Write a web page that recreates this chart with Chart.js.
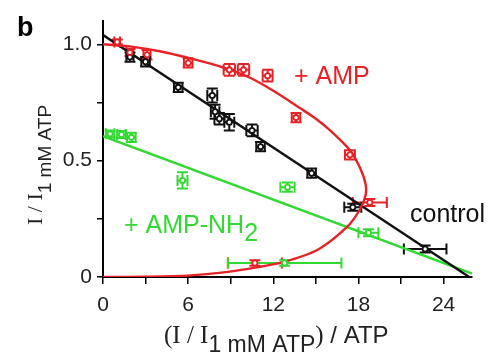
<!DOCTYPE html>
<html><head><meta charset="utf-8">
<script src="https://cdn.jsdelivr.net/npm/chart.js@4"></script>
<style>html,body{margin:0;padding:0;background:#fff}</style>
</head><body>
<canvas id="c" width="490" height="352" style="width:490px;height:352px;display:block"></canvas>
<script>
// ---- data ----
const xTicks = [0, 6, 12, 18, 24];
const yTicks = [0, 0.5, 1.0];

// + AMP (red)
const ampX    = [1.0, 1.9, 3.1, 6.0, 8.9, 9.9, 11.6, 13.6, 17.4, 18.8, 10.7];
const ampY    = [1.01, 0.965, 0.955, 0.92, 0.89, 0.89, 0.865, 0.685, 0.525, 0.32, 0.06];
const ampXErr = [0.2, 0.25, 0.25, 0.3, 0.4, 0.4, 0.35, 0.3, 0.35, 1.2, 1.9];
const ampYErr = [0.01, 0.015, 0.02, 0.02, 0.025, 0.025, 0.025, 0.02, 0.02, 0.015, 0.012];

// control (black)
const ctlX    = [1.9, 3.0, 5.3, 7.7, 7.9, 8.2, 8.9, 10.5, 11.1, 14.7, 17.6, 22.7];
const ctlY    = [0.945, 0.925, 0.815, 0.78, 0.71, 0.68, 0.665, 0.63, 0.56, 0.446, 0.30, 0.12];
const ctlXErr = [0.25, 0.3, 0.3, 0.35, 0.3, 0.35, 0.35, 0.4, 0.3, 0.3, 0.6, 1.5];
const ctlYErr = [0.02, 0.02, 0.02, 0.03, 0.03, 0.025, 0.035, 0.025, 0.02, 0.02, 0.015, 0.015];

// + AMP-NH2 (green)
const nhX    = [0.5, 1.3, 2.0, 5.6, 13.0, 18.7, 12.8];
const nhY    = [0.615, 0.612, 0.60, 0.415, 0.386, 0.19, 0.06];
const nhXErr = [0.3, 0.3, 0.3, 0.35, 0.5, 0.7, 4.0];
const nhYErr = [0.015, 0.015, 0.02, 0.035, 0.02, 0.015, 0.012];

// fitted curves
const ampFitX = [0, 2, 4, 6.1, 8.5, 10.4, 12, 13.9, 15, 16, 17.4, 18.1, 18.5, 18.5, 18.1, 17.2, 15.1, 12.7, 10.7, 8.8, 6, 3, 0];
const ampFitY = [1.0, 0.99, 0.97, 0.94, 0.9, 0.855, 0.8, 0.725, 0.68, 0.63, 0.545, 0.47, 0.40, 0.35, 0.29, 0.215, 0.116, 0.064, 0.04, 0.022, 0.006, 0.001, 0];
const ctlFitX = [0, 25.8];
const ctlFitY = [1.04, 0];
const nhFitX  = [0, 26];
const nhFitY  = [0.605, 0.015];

const RED = '#e62226', GREEN = '#33d933', BLACK = '#111111';
const pts = (xs, ys) => xs.map((x, i) => ({x, y: ys[i]}));

const errorBars = {
  id: 'errorBars',
  beforeDatasetsDraw(chart) {
    const ctx = chart.ctx, xs = chart.scales.x, ys = chart.scales.y;
    chart.data.datasets.forEach(ds => {
      if (!ds.errX) return;
      ctx.save();
      ctx.strokeStyle = ds.borderColor; ctx.lineWidth = 2;
      ds.data.forEach((p, i) => {
        const px = xs.getPixelForValue(p.x), py = ys.getPixelForValue(p.y);
        const x0 = xs.getPixelForValue(p.x - ds.errX[i]), x1 = xs.getPixelForValue(p.x + ds.errX[i]);
        const y0 = ys.getPixelForValue(p.y - ds.errY[i]), y1 = ys.getPixelForValue(p.y + ds.errY[i]);
        const c = 5.5;
        ctx.beginPath();
        ctx.moveTo(x0, py); ctx.lineTo(x1, py);
        ctx.moveTo(x0, py - c); ctx.lineTo(x0, py + c);
        ctx.moveTo(x1, py - c); ctx.lineTo(x1, py + c);
        ctx.moveTo(px, y0); ctx.lineTo(px, y1);
        ctx.moveTo(px - c, y0); ctx.lineTo(px + c, y0);
        ctx.moveTo(px - c, y1); ctx.lineTo(px + c, y1);
        ctx.stroke();
      });
      ctx.restore();
    });
  }
};

const SANS = '"Liberation Sans", Arial, sans-serif';
const SERIF = '"Liberation Serif", "Times New Roman", serif';

function drawRuns(ctx, runs, x, y) {
  runs.forEach(r => {
    ctx.font = r.font;
    ctx.fillText(r.t, x, y + (r.dy || 0));
    x += ctx.measureText(r.t).width;
  });
}

const texts = {
  id: 'texts',
  afterDraw(chart) {
    const ctx = chart.ctx;
    ctx.save();
    ctx.textBaseline = 'alphabetic'; ctx.textAlign = 'left';
    ctx.fillStyle = '#000';
    ctx.font = 'bold 27px ' + SANS;
    ctx.fillText('b', 17, 36);
    ctx.fillStyle = RED;
    ctx.font = '25px ' + SANS;
    ctx.fillText('+ AMP', 294, 84);
    ctx.fillStyle = GREEN;
    drawRuns(ctx, [
      {t: '+ AMP-NH', font: '25px ' + SANS},
      {t: '2', font: '25px ' + SANS, dy: 8}
    ], 124, 233);
    ctx.fillStyle = BLACK;
    ctx.font = '25px ' + SANS;
    ctx.fillText('control', 410, 222);
    ctx.fillStyle = '#222';
    drawRuns(ctx, [
      {t: '(I / I', font: '25px ' + SERIF},
      {t: '1 mM ATP', font: '23px ' + SANS, dy: 9},
      {t: ')', font: '25px ' + SERIF},
      {t: ' / ATP', font: '24px ' + SANS}
    ], 164, 343);
    ctx.save();
    ctx.translate(42, 225);
    ctx.rotate(-Math.PI / 2);
    drawRuns(ctx, [
      {t: 'I / I', font: '22px ' + SERIF},
      {t: '1 mM ATP', font: '19px ' + SANS, dy: 9}
    ], 0, 0);
    ctx.restore();
    ctx.restore();
  }
};

new Chart(document.getElementById('c'), {
  type: 'scatter',
  data: {
    datasets: [
      {label: '+ AMP', data: pts(ampX, ampY), errX: ampXErr, errY: ampYErr,
       borderColor: RED, backgroundColor: '#fff', pointRadius: 2.6, borderWidth: 1.8},
      {label: 'control', data: pts(ctlX, ctlY), errX: ctlXErr, errY: ctlYErr,
       borderColor: BLACK, backgroundColor: '#fff', pointRadius: 2.6, borderWidth: 1.8},
      {label: '+ AMP-NH2', data: pts(nhX, nhY), errX: nhXErr, errY: nhYErr,
       borderColor: GREEN, backgroundColor: '#fff', pointRadius: 2.6, borderWidth: 1.8},
      {label: 'fit AMP', data: pts(ampFitX, ampFitY), showLine: true, tension: 0.3,
       borderColor: RED, borderWidth: 2.4, pointRadius: 0, fill: false},
      {label: 'fit control', data: pts(ctlFitX, ctlFitY), showLine: true,
       borderColor: BLACK, borderWidth: 2.4, pointRadius: 0, fill: false},
      {label: 'fit AMP-NH2', data: pts(nhFitX, nhFitY), showLine: true,
       borderColor: GREEN, borderWidth: 2.4, pointRadius: 0, fill: false}
    ]
  },
  options: {
    responsive: false,
    animation: false,
    devicePixelRatio: 1,
    layout: {padding: {left: 0, top: 21, right: 18, bottom: 0}},
    plugins: {legend: {display: false}, tooltip: {enabled: false}},
    scales: {
      x: {
        type: 'linear', min: 0, max: 26,
        afterBuildTicks: s => { s.ticks = [0,3,6,9,12,15,18,21,24].map(v => ({value: v})); },
        afterFit: s => { s.height = 75; },
        ticks: {
          autoSkip: false, maxRotation: 0, padding: 9, color: '#222',
          font: {family: SANS, size: 21},
          callback: v => xTicks.includes(v) ? String(v) : ''
        },
        grid: {drawOnChartArea: false, drawTicks: true, tickLength: 7, color: '#000', lineWidth: 1.5},
        border: {display: true, color: '#000', width: 2}
      },
      y: {
        type: 'linear', min: 0, max: 1.1,
        afterBuildTicks: s => { s.ticks = [0,0.25,0.5,0.75,1.0].map(v => ({value: v})); },
        afterFit: s => { s.width = 103; },
        ticks: {
          autoSkip: false, padding: 5, color: '#222',
          font: {family: SANS, size: 21},
          callback: v => yTicks.includes(v) ? (v === 0 ? '0' : v.toFixed(1)) : ''
        },
        grid: {drawOnChartArea: false, drawTicks: true, tickLength: 6, color: '#000', lineWidth: 1.5},
        border: {display: true, color: '#000', width: 2}
      }
    }
  },
  plugins: [errorBars, texts]
});
</script>
</body></html>
